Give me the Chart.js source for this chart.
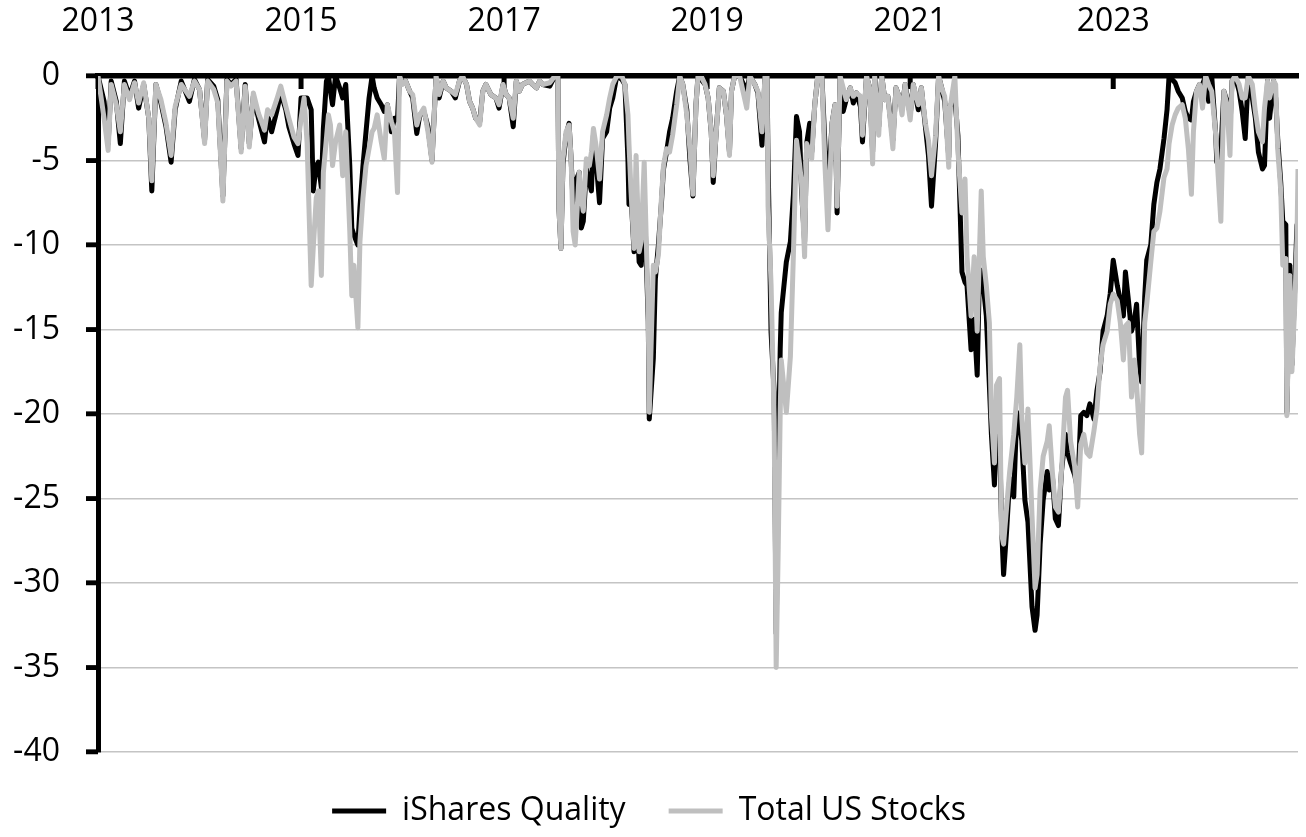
<!DOCTYPE html>
<html>
<head>
<meta charset="utf-8">
<title>Drawdown: iShares Quality vs Total US Stocks</title>
<script src="https://cdn.jsdelivr.net/npm/chart.js@4.4.1/dist/chart.umd.min.js"></script>
<style>
  html, body { margin: 0; padding: 0; background: #ffffff; }
  #wrap { width: 1306px; height: 837px; }
</style>
</head>
<body>
<div id="wrap"><canvas id="drawdownChart"></canvas></div>
<script>
// ==========================================
// Drawdown from previous high, % (weekly-ish readings)
// ==========================================

// decimal years
const dates = [
    2013.54, 2013.60, 2013.64, 2013.67, 2013.72, 2013.76, 2013.80, 2013.85, 2013.90, 2013.94,
    2013.99, 2014.04, 2014.07, 2014.11, 2014.16, 2014.21, 2014.26, 2014.30, 2014.36, 2014.44,
    2014.49, 2014.54, 2014.59, 2014.62, 2014.68, 2014.72, 2014.77, 2014.81, 2014.85, 2014.90,
    2014.95, 2014.99, 2015.03, 2015.07, 2015.12, 2015.18, 2015.21, 2015.25, 2015.30, 2015.34,
    2015.39, 2015.42, 2015.47, 2015.51,
    2015.54, 2015.57, 2015.60, 2015.64, 2015.66, 2015.69, 2015.71, 2015.74, 2015.76, 2015.79,
    2015.81, 2015.83, 2015.85, 2015.88, 2015.92, 2015.95, 2015.98, 2016.02, 2016.04, 2016.06,
    2016.10, 2016.12, 2016.15, 2016.18, 2016.21, 2016.24, 2016.26, 2016.29, 2016.33, 2016.36,
    2016.39, 2016.43, 2016.46, 2016.49, 2016.51, 2016.54, 2016.57, 2016.61, 2016.64, 2016.68,
    2016.71, 2016.75, 2016.79, 2016.83, 2016.87, 2016.90, 2016.94, 2016.97, 2017.02, 2017.06,
    2017.10, 2017.13, 2017.17, 2017.20, 2017.23, 2017.26, 2017.30, 2017.33, 2017.36, 2017.41,
    2017.46, 2017.49, 2017.53, 2017.56, 2017.59, 2017.63, 2017.66, 2017.69, 2017.72, 2017.79,
    2017.82, 2017.86, 2017.89, 2017.92, 2017.99, 2018.04, 2018.07,
    2018.08, 2018.10, 2018.12, 2018.15, 2018.18, 2018.20, 2018.22, 2018.24, 2018.28, 2018.30,
    2018.32, 2018.35, 2018.38, 2018.40, 2018.42, 2018.45, 2018.48, 2018.51, 2018.55, 2018.58,
    2018.61, 2018.65, 2018.70, 2018.73, 2018.76, 2018.77, 2018.79, 2018.82, 2018.84, 2018.87,
    2018.89, 2018.92, 2018.96, 2018.97, 2019.01, 2019.03, 2019.06, 2019.09, 2019.11, 2019.14,
    2019.17, 2019.20, 2019.24, 2019.27, 2019.30, 2019.34, 2019.37, 2019.40, 2019.43, 2019.45,
    2019.48, 2019.52, 2019.55, 2019.58, 2019.60, 2019.63, 2019.66, 2019.70, 2019.73, 2019.76,
    2019.78, 2019.81, 2019.86, 2019.93, 2019.96, 2020.01, 2020.04, 2020.08, 2020.11, 2020.13,
    2020.14, 2020.17, 2020.20, 2020.22, 2020.24, 2020.26, 2020.27, 2020.32, 2020.36, 2020.39,
    2020.42, 2020.45, 2020.47, 2020.50, 2020.52, 2020.55, 2020.57, 2020.60, 2020.63, 2020.67,
    2020.70, 2020.73, 2020.77, 2020.80, 2020.82, 2020.85, 2020.88, 2020.91, 2020.95, 2020.98,
    2021.01, 2021.05, 2021.07, 2021.11, 2021.14, 2021.17, 2021.19, 2021.23, 2021.26, 2021.29,
    2021.32, 2021.37, 2021.40, 2021.43, 2021.46, 2021.49, 2021.54, 2021.57, 2021.62, 2021.65,
    2021.69, 2021.72, 2021.75, 2021.79, 2021.82, 2021.85, 2021.88, 2021.92,
    2021.93, 2021.98, 2022.01, 2022.05, 2022.08, 2022.10, 2022.14, 2022.17, 2022.20, 2022.22,
    2022.24, 2022.26, 2022.29, 2022.32, 2022.34, 2022.37, 2022.39, 2022.42, 2022.44, 2022.46,
    2022.49, 2022.52, 2022.56, 2022.59, 2022.62, 2022.64, 2022.67, 2022.70, 2022.74, 2022.77,
    2022.79, 2022.82, 2022.85, 2022.89, 2022.91, 2022.94, 2022.97, 2023.00, 2023.03, 2023.07,
    2023.09, 2023.12, 2023.16, 2023.19, 2023.22, 2023.25, 2023.28, 2023.31, 2023.35, 2023.38,
    2023.41, 2023.44, 2023.48, 2023.51, 2023.54, 2023.58, 2023.61, 2023.64, 2023.66, 2023.69,
    2023.72, 2023.75, 2023.77, 2023.80, 2023.82, 2023.85, 2023.87, 2023.91, 2023.94, 2023.97,
    2024.00, 2024.04, 2024.07, 2024.09,
    2024.12, 2024.15, 2024.18, 2024.22, 2024.25, 2024.28, 2024.31, 2024.33, 2024.36, 2024.39,
    2024.42, 2024.45, 2024.48, 2024.51, 2024.55, 2024.56, 2024.60, 2024.63, 2024.66, 2024.69,
    2024.71, 2024.74, 2024.78, 2024.81, 2024.84, 2024.87, 2024.91, 2024.94, 2024.97, 2025.01,
    2025.03, 2025.06, 2025.08, 2025.12, 2025.14, 2025.16, 2025.19, 2025.21, 2025.24, 2025.25,
    2025.28, 2025.30, 2025.33, 2025.35, 2025.36
];

// iShares Quality (black)
const qualityDrawdown = [
    0, -1.5, -4.0, -0.3, -1.5, -4.0, -0.3, -1.2, -0.3, -1.9,
    -0.5, -2.5, -6.8, -0.5, -1.6, -3.0, -5.1, -2.0, -0.3, -1.5,
    -0.2, -0.8, -3.8, -0.2, -0.6, -1.4, -7.1, -0.2, -0.5, -0.2,
    -4.3, -0.5, -4.0, -1.2, -2.5, -3.9, -2.3, -3.3, -2.1, -1.0,
    -2.0, -3.0, -4.0, -4.7,
    -1.3, -1.3, -1.3, -2.0, -6.8, -5.3, -5.1, -6.6, -3.1, -0.3,
    0, -0.9, -1.7, 0, -0.7, -1.3, -0.5, -5.3, -9.0, -9.4,
    -10.0, -7.8, -5.3, -3.3, -1.3, 0, -0.7, -1.3, -1.7, -2.1,
    -1.7, -3.3, -2.5, -2.6, 0, -0.4, -0.3, -0.9, -1.3, -3.4,
    -2.3, -2.1, -3.0, -5.0, 0, -1.3, -0.3, -0.7, -0.9, -1.3,
    -0.3, 0, -0.5, -1.5, -1.9, -2.5, -2.7, -0.9, -0.5, -1.1,
    -1.3, -1.9, -0.5, -1.1, -1.3, -3.0, -0.3, -0.9, -0.5, -0.3,
    -0.5, -0.7, -0.3, -0.5, -0.6, 0, 0,
    -7.8, -10.2, -5.2, -3.5, -2.8, -4.9, -7.6, -6.3, -5.7, -9.0,
    -8.6, -5.5, -6.3, -6.8, -3.5, -5.3, -7.5, -3.7, -3.3, -1.9,
    -1.3, 0, -0.2, -0.5, -5.0, -7.6, -7.0, -10.4, -7.0, -11.0,
    -11.2, -7.0, -14.5, -20.3, -16.7, -12.0, -10.0, -7.5, -5.5, -4.5,
    -3.3, -2.5, -0.9, 0, -0.5, -2.0, -4.9, -7.1, -1.7, 0,
    -0.2, -0.5, -1.3, -3.3, -6.3, -3.2, -0.7, -0.9, -2.3, -4.5,
    -0.9, 0, 0, -0.9, 0, -0.5, -1.0, -4.1, 0, 0,
    -5.0, -15.2, -18.7, -33.0, -23.1, -16.1, -14.0, -11.0, -9.8, -7.0,
    -2.4, -3.3, -6.8, -9.8, -4.0, -2.8, -4.5, -1.7, 0, 0,
    -4.0, -7.0, -2.8, -1.7, -8.1, 0, -2.1, -1.4, -0.7, -1.6,
    -1.0, -1.8, -3.9, 0, -0.7, -4.5, 0, -3.0, 0, -1.4,
    -1.2, -3.8, -0.7, -1.2, -2.0, -0.5, -2.3, -0.5, -2.0, -0.7,
    -3.0, -4.7, -7.7, -4.0, 0, -0.7, -1.5, -4.8,
    -1.8, -1.3, -3.5, -11.6, -12.2, -12.4, -16.2, -14.4, -17.7, -12.4,
    -11.5, -12.4, -14.2, -18.3, -21.2, -24.2, -20.7, -21.2, -26.6, -29.5,
    -26.9, -23.8, -24.9, -19.9, -20.7, -21.6, -25.1, -26.4, -31.4, -32.8,
    -31.9, -27.7, -25.1, -23.4, -24.5, -23.6, -26.2, -26.6, -23.4, -21.2,
    -22.3, -22.9, -23.6, -24.5, -20.1, -19.9, -20.1, -19.4, -20.3, -18.6,
    -17.5, -15.1, -14.2, -12.9, -10.9, -12.4, -13.3, -14.2, -11.6, -13.3,
    -15.1, -14.4, -13.5, -17.2, -18.1, -13.1, -10.9, -10.0, -7.6, -6.3,
    -5.5, -3.7, -2.0, 0,
    -0.2, -0.4, -0.9, -1.3, -2.1, -2.5, -2.6, -1.5, -0.9, -0.5,
    -0.5, 0, -1.5, 0, -3.5, -5.1, -4.5, -0.9, -1.5, -3.0,
    -0.3, 0, -0.9, -2.1, -3.7, 0, -1.3, -2.5, -4.5, -5.5,
    -5.3, -0.3, -2.5, -0.3, -1.3, -3.7, -6.3, -8.6, -8.8, -19.9,
    -11.2, -17.1, -12.2, -8.8, -9.6
];

// Total US Stocks (grey)
const totalDrawdown = [
    0, -2.5, -4.4, -0.5, -1.7, -3.3, -0.5, -1.4, -0.4, -1.6,
    -0.4, -2.5, -6.2, -0.5, -1.4, -2.8, -4.7, -1.8, -0.5, -1.2,
    -0.3, -0.8, -4.0, -0.3, -0.8, -1.6, -7.4, -0.3, -0.6, -0.3,
    -4.5, -0.6, -4.2, -1.0, -2.2, -3.2, -2.0, -2.3, -1.4, -0.6,
    -1.8, -2.5, -3.6, -4.0,
    -2.5, -1.3, -4.0, -12.4, -10.2, -7.2, -6.8, -11.8, -5.7, -3.7,
    -2.3, -2.9, -5.3, -3.9, -2.9, -5.9, -3.3, -9.2, -13.0, -11.2,
    -14.9, -9.8, -7.2, -5.3, -4.3, -3.3, -3.1, -2.3, -3.9, -4.9,
    -1.7, -2.7, -3.3, -6.9, 0, -0.5, -0.3, -0.9, -1.1, -2.9,
    -2.3, -1.9, -3.3, -5.1, 0, -1.1, -0.3, -0.7, -0.9, -1.1,
    -0.3, 0, -0.5, -1.5, -1.9, -2.5, -2.9, -0.9, -0.5, -1.1,
    -1.3, -1.7, -0.5, -1.1, -1.3, -2.5, -0.3, -0.9, -0.5, -0.3,
    -0.5, -0.7, -0.3, -0.5, -0.4, 0, 0,
    -7.8, -10.2, -4.9, -3.3, -2.9, -4.9, -9.2, -10.0, -5.7, -7.2,
    -8.0, -4.9, -5.3, -4.5, -3.1, -4.3, -6.1, -3.3, -2.3, -1.3,
    -0.5, 0, 0, -0.5, -2.3, -4.0, -6.8, -10.2, -4.7, -10.4,
    -9.8, -5.1, -14.1, -19.9, -11.2, -11.6, -10.6, -7.2, -5.3, -4.3,
    -4.5, -3.5, -1.7, 0, -0.5, -2.3, -4.3, -7.0, -1.7, 0,
    0, -0.5, -1.3, -3.3, -5.9, -3.3, -0.7, -0.9, -2.3, -4.7,
    -0.9, 0, 0, -1.9, 0, -0.5, -0.9, -3.3, 0, 0,
    -7.7, -12.4, -20.3, -35.0, -28.0, -19.8, -16.8, -19.9, -16.6, -10.5,
    -3.8, -5.2, -6.3, -10.7, -4.0, -4.5, -4.9, -1.7, 0, 0,
    -5.2, -9.1, -2.8, -1.7, -7.7, 0, -0.7, -1.4, -0.7, -1.2,
    -1.0, -1.2, -3.5, 0, -0.7, -5.2, 0, -3.5, 0, -1.4,
    -1.2, -4.3, -0.7, -1.2, -2.3, -0.5, -2.6, -0.5, -1.7, -0.7,
    -2.8, -3.8, -5.9, -3.5, 0, -0.7, -1.2, -5.4,
    -2.0, 0, -4.4, -8.1, -6.1, -10.7, -14.2, -10.7, -15.1, -10.9,
    -6.8, -10.7, -12.4, -14.6, -20.1, -22.9, -18.3, -17.9, -27.1, -27.7,
    -25.5, -23.4, -21.2, -19.0, -15.9, -20.3, -22.9, -19.7, -26.0, -30.3,
    -29.5, -24.5, -22.5, -21.6, -20.7, -23.4, -25.5, -25.8, -23.4, -19.0,
    -18.6, -21.6, -23.1, -25.5, -21.8, -21.2, -22.3, -22.5, -21.0, -19.7,
    -17.2, -15.9, -15.1, -13.5, -12.9, -13.3, -14.6, -16.8, -14.8, -14.6,
    -19.0, -16.8, -18.3, -21.2, -22.3, -14.6, -13.5, -11.0, -9.2, -9.0,
    -8.0, -6.0, -5.5, -4.0,
    -2.9, -2.3, -1.9, -1.7, -2.5, -4.3, -7.0, -3.3, -0.9, -0.5,
    -1.9, 0, -0.5, -0.9, -3.5, -4.5, -8.6, -0.9, -1.7, -4.7,
    -0.3, 0, -0.5, -1.3, -1.3, 0, -0.5, -2.1, -3.3, -3.9,
    -1.9, -0.3, -1.3, -0.3, -0.5, -4.3, -6.8, -11.2, -10.8, -20.1,
    -11.8, -17.5, -13.2, -9.6, -5.5
];

// top axis labels, one every two years from the first observation
const yearTickDates = [2013.54, 2015.54, 2017.54, 2019.54, 2021.54, 2023.54];
const yearLabels = ["2013", "2015", "2017", "2019", "2021", "2023"];

// left axis
const yTicks = [0, -5, -10, -15, -20, -25, -30, -35, -40];

const seriesNames = ["iShares Quality", "Total US Stocks"];

// ==========================================

const fontFamily = "'Open Sans', 'Liberation Sans', sans-serif";
Chart.defaults.font.family = fontFamily;
Chart.defaults.font.size = 32;
Chart.defaults.color = "#000000";

function toPoints(values) {
    return values.map((v, i) => ({ x: dates[i], y: v }));
}

// inside marks hanging under the zero line at each year label (under the lines)
const yearMarks = {
    id: "yearMarks",
    beforeDatasetsDraw(chart) {
        const { ctx, scales: { x, y } } = chart;
        const zero = y.getPixelForValue(0);
        ctx.save();
        ctx.strokeStyle = "#000000";
        ctx.lineWidth = 5;
        yearTickDates.forEach(d => {
            const px = x.getPixelForValue(d);
            ctx.beginPath();
            ctx.moveTo(px, zero);
            ctx.lineTo(px, zero + 13);
            ctx.stroke();
        });
        ctx.restore();
    }
};

// short stubs left of the value axis
const valueMarks = {
    id: "valueMarks",
    afterDraw(chart) {
        const { ctx, chartArea, scales: { y } } = chart;
        const edge = chartArea.left;
        ctx.save();
        ctx.fillStyle = "#000000";
        yTicks.forEach(v => {
            const py = y.getPixelForValue(v);
            ctx.fillRect(edge - 12, py - 2.25, 12, 4.5);
        });
        ctx.restore();
    }
};

const ctx = document.getElementById("drawdownChart").getContext("2d");

const drawdownChart = new Chart(ctx, {
    type: "line",
    data: {
        datasets: [{
            label: seriesNames[0],
            data: toPoints(qualityDrawdown),
            borderColor: "#000000",
            backgroundColor: "#000000",
            borderWidth: 5,
            order: 1
        }, {
            label: seriesNames[1],
            data: toPoints(totalDrawdown),
            borderColor: "#bfbfbf",
            backgroundColor: "#bfbfbf",
            borderWidth: 5,
            order: 0
        }]
    },
    options: {
        responsive: true,
        maintainAspectRatio: false,
        animation: false,
        layout: {
            padding: { left: 0, right: 8, top: 0, bottom: 0 }
        },
        elements: {
            point: { radius: 0, hoverRadius: 0 },
            line: { tension: 0, borderJoinStyle: "round", fill: false }
        },
        plugins: {
            legend: {
                position: "bottom",
                labels: {
                    usePointStyle: true,
                    pointStyle: "line",
                    pointStyleWidth: 54,
                    padding: 43,
                    color: "#000000",
                    font: { size: 32 },
                    sort: (a, b) => a.datasetIndex - b.datasetIndex
                }
            },
            tooltip: { enabled: false }
        },
        scales: {
            x: {
                type: "linear",
                position: "top",
                min: dates[0],
                max: dates[dates.length - 1],
                grid: { display: false, drawTicks: false },
                border: { display: true, color: "#000000", width: 5.5 },
                ticks: {
                    padding: 35,
                    maxRotation: 0,
                    autoSkip: false,
                    color: "#000000",
                    callback: (value, index) => yearLabels[index]
                },
                afterBuildTicks: (scale) => {
                    scale.ticks = yearTickDates.map(v => ({ value: v }));
                },
                afterFit: (scale) => { scale.height = 76; }
            },
            y: {
                min: -40,
                max: 0,
                grid: {
                    color: "#c4c4c4",
                    lineWidth: 1.5,
                    drawTicks: true,
                    tickColor: "#000000",
                    tickWidth: 4.5,
                    tickLength: 12
                },
                border: { display: true, color: "#000000", width: 5 },
                ticks: {
                    padding: 26,
                    color: "#000000"
                },
                afterBuildTicks: (scale) => {
                    scale.ticks = yTicks.map(v => ({ value: v }));
                },
                afterFit: (scale) => { scale.width = 98; }
            }
        }
    },
    plugins: [yearMarks, valueMarks]
});
</script>
</body>
</html>
